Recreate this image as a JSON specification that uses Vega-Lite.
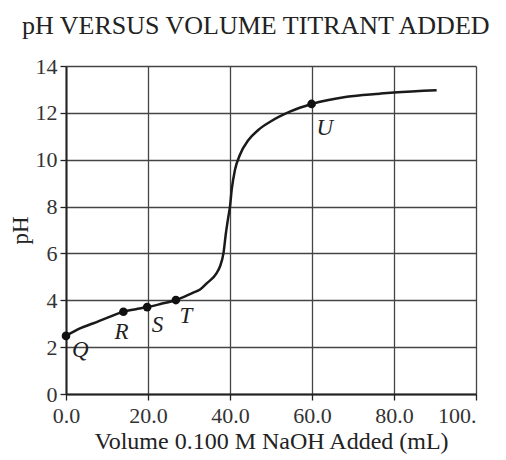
{
  "$schema": "https://vega.github.io/schema/vega-lite/v6.json",
  "width": 410,
  "height": 328,
  "autosize": "none",
  "padding": {"left": 66, "top": 66, "right": 30, "bottom": 66},
  "background": "white",
  "title": {
    "text": "pH VERSUS VOLUME TITRANT ADDED",
    "anchor": "start",
    "frame": "group",
    "dx": -44,
    "offset": 16,
    "font": "Liberation Serif",
    "fontSize": 26,
    "fontWeight": "normal",
    "color": "#222"
  },
  "config": {
    "view": {"stroke": null},
    "axis": {
      "grid": true,
      "gridColor": "#444",
      "gridWidth": 1.3,
      "gridOpacity": 1,
      "domainColor": "#222",
      "domainWidth": 2,
      "tickColor": "#222",
      "tickSize": 6,
      "tickWidth": 1.3,
      "labelFont": "Liberation Serif",
      "labelFontSize": 22,
      "labelColor": "#333",
      "titleFont": "Liberation Serif",
      "titleFontSize": 24,
      "titleFontWeight": "normal",
      "titleColor": "#222"
    }
  },
  "datasets": {
    "curve": [
      {"v": 0, "ph": 2.48}, {"v": 3, "ph": 2.77}, {"v": 6.7, "ph": 3.02}, {"v": 10, "ph": 3.25},
      {"v": 14, "ph": 3.51}, {"v": 17, "ph": 3.62}, {"v": 19.8, "ph": 3.71}, {"v": 23, "ph": 3.84},
      {"v": 26.8, "ph": 4.01}, {"v": 30.9, "ph": 4.32}, {"v": 32.7, "ph": 4.46}, {"v": 34.3, "ph": 4.72},
      {"v": 36.7, "ph": 5.15}, {"v": 37.5, "ph": 5.42}, {"v": 38.4, "ph": 6.0}, {"v": 39.0, "ph": 6.86},
      {"v": 39.6, "ph": 7.57}, {"v": 40.0, "ph": 8.0}, {"v": 40.4, "ph": 8.7}, {"v": 41.2, "ph": 9.56},
      {"v": 42.4, "ph": 10.2}, {"v": 44.5, "ph": 10.84}, {"v": 46.9, "ph": 11.27}, {"v": 49.8, "ph": 11.62},
      {"v": 54.6, "ph": 12.05}, {"v": 59.9, "ph": 12.38}, {"v": 68.5, "ph": 12.69}, {"v": 76.6, "ph": 12.82},
      {"v": 80, "ph": 12.87}, {"v": 90.4, "ph": 12.97}
    ],
    "pts": [
      {"v": 0, "ph": 2.48, "label": "Q"},
      {"v": 14, "ph": 3.51, "label": "R"},
      {"v": 19.8, "ph": 3.71, "label": "S"},
      {"v": 26.8, "ph": 4.01, "label": "T"},
      {"v": 59.9, "ph": 12.38, "label": "U"}
    ]
  },
  "encoding": {
    "x": {
      "field": "v",
      "type": "quantitative",
      "scale": {"domain": [0, 100], "nice": false},
      "axis": {
        "values": [0, 20, 40, 60, 80, 100],
        "labelExpr": "datum.value == 100 ? '100.' : format(datum.value, '.1f')",
        "labelAlign": {"expr": "datum.value == 100 ? 'right' : 'center'"},
        "labelFlush": false,
        "labelPadding": 5,
        "title": "Volume 0.100 M NaOH Added (mL)",
        "titlePadding": 3
      }
    },
    "y": {
      "field": "ph",
      "type": "quantitative",
      "scale": {"domain": [0, 14], "nice": false},
      "axis": {
        "values": [0, 2, 4, 6, 8, 10, 12, 14],
        "labelPadding": 3,
        "title": "pH",
        "titleFontSize": 23,
        "titlePadding": 3
      }
    }
  },
  "layer": [
    {
      "data": {"name": "curve"},
      "mark": {"type": "line", "interpolate": "monotone", "color": "#1a1a1a", "strokeWidth": 2.5}
    },
    {
      "data": {"name": "pts"},
      "mark": {"type": "point", "filled": true, "color": "#111", "opacity": 1, "size": 75}
    },
    {
      "data": {"name": "pts"},
      "transform": [{"filter": "datum.label == 'Q'"}],
      "mark": {"type": "text", "font": "Liberation Serif", "fontStyle": "italic", "fontSize": 23, "align": "left", "baseline": "alphabetic", "dx": 6, "dy": 21, "color": "#222"},
      "encoding": {"text": {"field": "label"}}
    },
    {
      "data": {"name": "pts"},
      "transform": [{"filter": "datum.label == 'R'"}],
      "mark": {"type": "text", "font": "Liberation Serif", "fontStyle": "italic", "fontSize": 23, "align": "left", "baseline": "alphabetic", "dx": -9, "dy": 27, "color": "#222"},
      "encoding": {"text": {"field": "label"}}
    },
    {
      "data": {"name": "pts"},
      "transform": [{"filter": "datum.label == 'S'"}],
      "mark": {"type": "text", "font": "Liberation Serif", "fontStyle": "italic", "fontSize": 23, "align": "left", "baseline": "alphabetic", "dx": 4.5, "dy": 25, "color": "#222"},
      "encoding": {"text": {"field": "label"}}
    },
    {
      "data": {"name": "pts"},
      "transform": [{"filter": "datum.label == 'T'"}],
      "mark": {"type": "text", "font": "Liberation Serif", "fontStyle": "italic", "fontSize": 23, "align": "left", "baseline": "alphabetic", "dx": 3.5, "dy": 23, "color": "#222"},
      "encoding": {"text": {"field": "label"}}
    },
    {
      "data": {"name": "pts"},
      "transform": [{"filter": "datum.label == 'U'"}],
      "mark": {"type": "text", "font": "Liberation Serif", "fontStyle": "italic", "fontSize": 23, "align": "left", "baseline": "alphabetic", "dx": 5, "dy": 31, "color": "#222"},
      "encoding": {"text": {"field": "label"}}
    }
  ]
}
